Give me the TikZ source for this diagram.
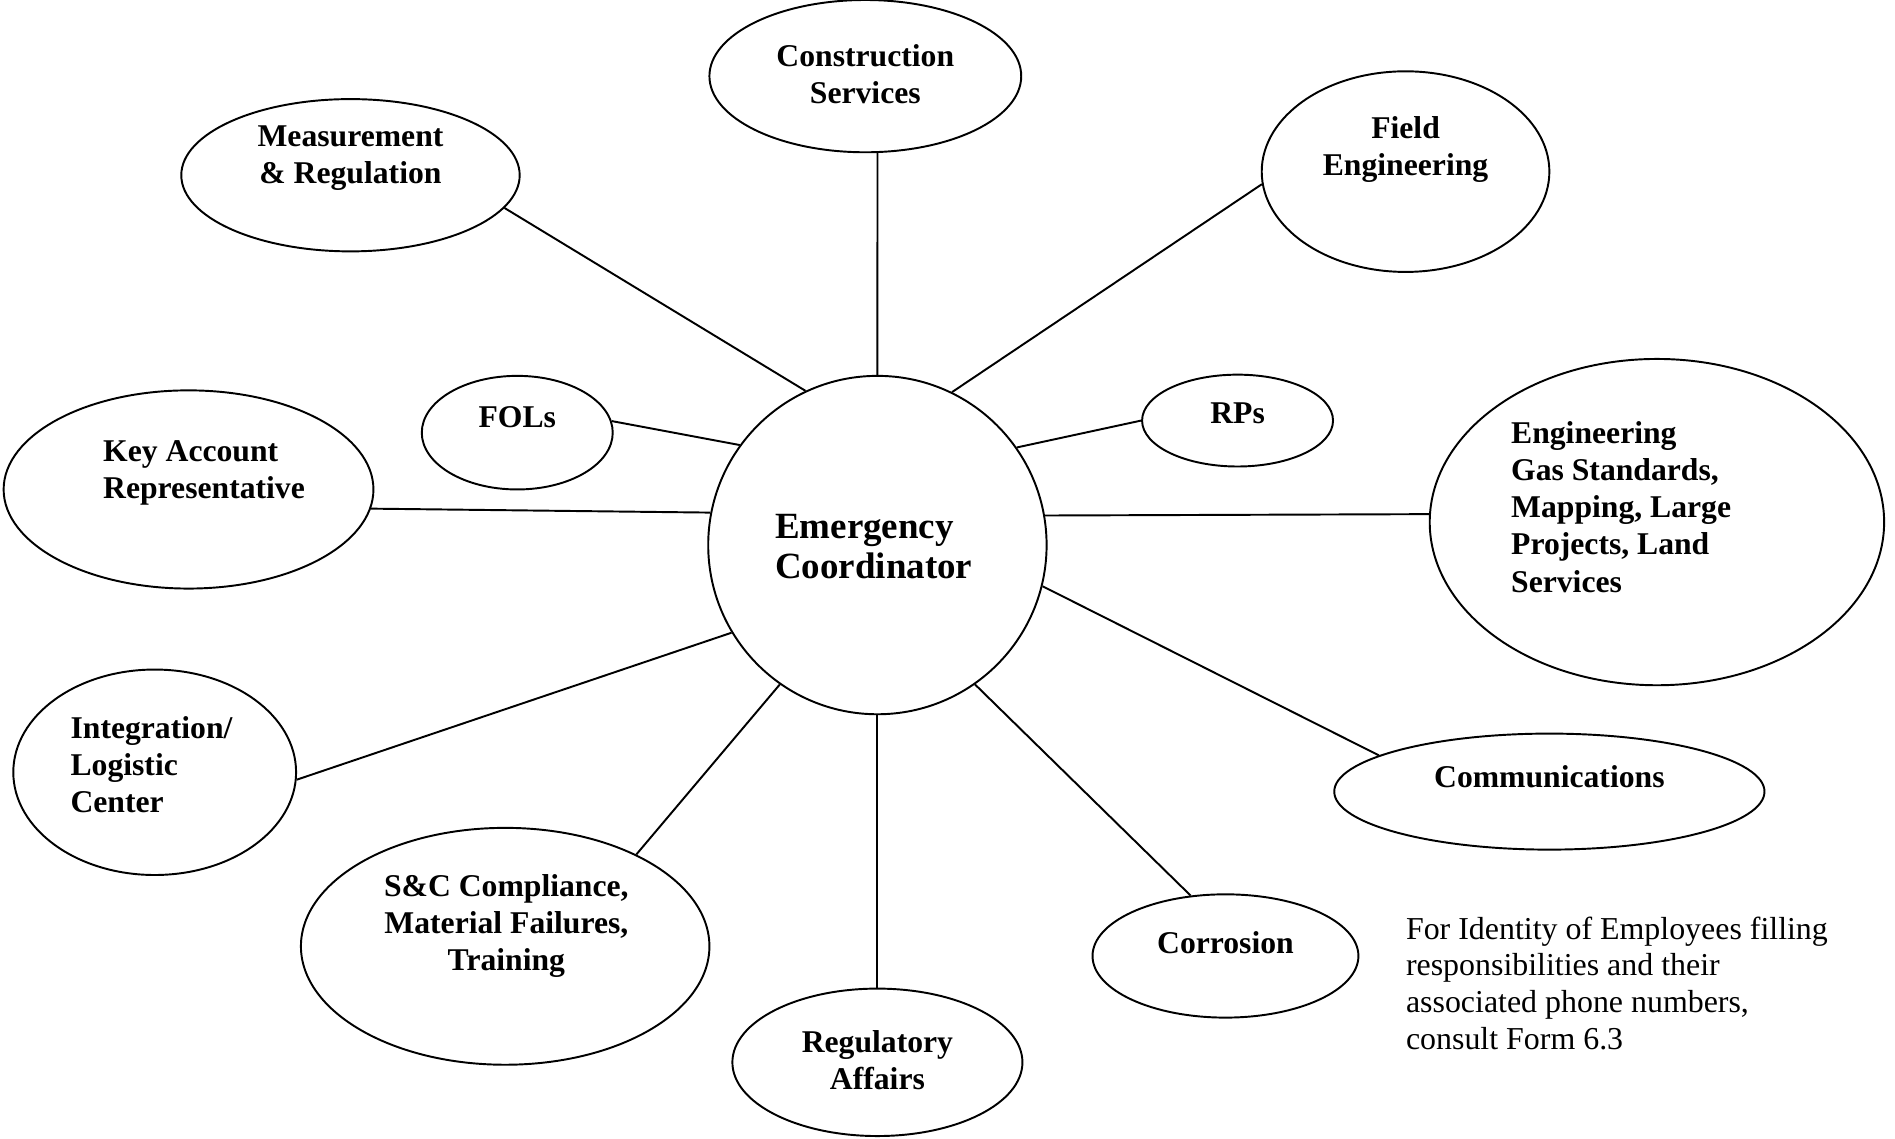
\documentclass[tikz,border=0pt]{standalone}
\usepackage{fontspec}
\setmainfont{Liberation Serif}
\usetikzlibrary{shapes.geometric}
\begin{document}
\begin{tikzpicture}[x=0.5pt,y=-0.5pt,
  oval/.style={draw, ellipse, line width=0.8pt, inner sep=0pt},
  lbl/.style={font=\fontsize{13.1}{15.35}\selectfont\bfseries, inner sep=0pt},
  conn/.style={line width=0.8pt}]
\useasboundingbox (0,0) rectangle (1568,942);
% ovals
\node[oval, circle, minimum size=140pt] (ec) at (726,451) {};
\node[oval, minimum width=129pt, minimum height=63pt] (cons) at (716,63) {};
\node[oval, minimum width=140pt, minimum height=63pt] (meas) at (290,145) {};
\node[oval, minimum width=119pt, minimum height=83pt] (field) at (1163,142) {};
\node[oval, minimum width=79pt, minimum height=47pt] (fols) at (428,358) {};
\node[oval, minimum width=79pt, minimum height=38pt] (rps) at (1024,348) {};
\node[oval, minimum width=153pt, minimum height=82pt] (key) at (156,405) {};
\node[oval, minimum width=188pt, minimum height=135pt] (eng) at (1371,432) {};
\node[oval, minimum width=117pt, minimum height=85pt] (integ) at (128,639) {};
\node[oval, minimum width=178pt, minimum height=48pt] (comm) at (1282,655) {};
\node[oval, minimum width=169pt, minimum height=98pt] (snc) at (418,783) {};
\node[oval, minimum width=110pt, minimum height=51pt] (corr) at (1014,791) {};
\node[oval, minimum width=120pt, minimum height=61pt] (reg) at (726,879) {};
% labels
\node[lbl, font=\fontsize{15.3}{16.5}\selectfont\bfseries, align=left, anchor=west] (ect) at (641,452.5) {Emergency\\Coordinator};
\node[lbl, align=center] (const) at (716,61.5) {Construction\\Services};
\node[lbl, align=center] (meast) at (290,130.5) {Measurement\\\& Regulation};
\node[lbl, align=center] (fieldt) at (1163,123.5) {Field\\Engineering};
\node[lbl] (folst) at (428,345) {FOLs};
\node[lbl] (rpst) at (1024,342) {RPs};
\node[lbl, align=left, anchor=west] (keyt) at (85,391) {Key Account\\Representative};
\node[lbl, align=left, anchor=west] (engt) at (1250,419.5) {Engineering\\Gas Standards,\\Mapping, Large\\Projects, Land\\Services};
\node[lbl, align=left, anchor=west] (integt) at (58,632.5) {Integration/\\Logistic\\Center};
\node[lbl] (commt) at (1282,643) {Communications};
\node[lbl, align=center] (snct) at (419,766) {S\&C Compliance,\\Material Failures,\\Training};
\node[lbl] (corrt) at (1014,780) {Corrosion};
\node[lbl, align=center] (regt) at (726,877.5) {Regulatory\\Affairs};
\node[inner sep=0pt, font=\fontsize{13.2}{15.2}\selectfont, align=left, anchor=west] (note) at (1163,813.5)
  {For Identity of Employees filling\\responsibilities and their\\associated phone numbers,\\consult Form 6.3};
% connectors
\draw[conn] (cons.-81) -- (ec.north);
\draw[conn] (meas.-12) -- (ec.115);
\draw[conn] (field.185) -- (ec.64);
\draw[conn] (fols.7) -- (ec.144.5);
\draw[conn] (rps.west) -- (ec.35.3);
\draw[conn] (key.-6.7) -- (ec.169.8);
\draw[conn] (eng.178.5) -- (ec.10.2);
\draw[conn] (integ.-3) -- (ec.211.9);
\draw[conn] (comm.168.7) -- (ec.-14.5);
\draw[conn] (snc.35.6) -- (ec.235.3);
\draw[conn] (reg.north) -- (ec.south);
\draw[conn] (corr.120) -- (ec.-55);
\end{tikzpicture}
\end{document}
